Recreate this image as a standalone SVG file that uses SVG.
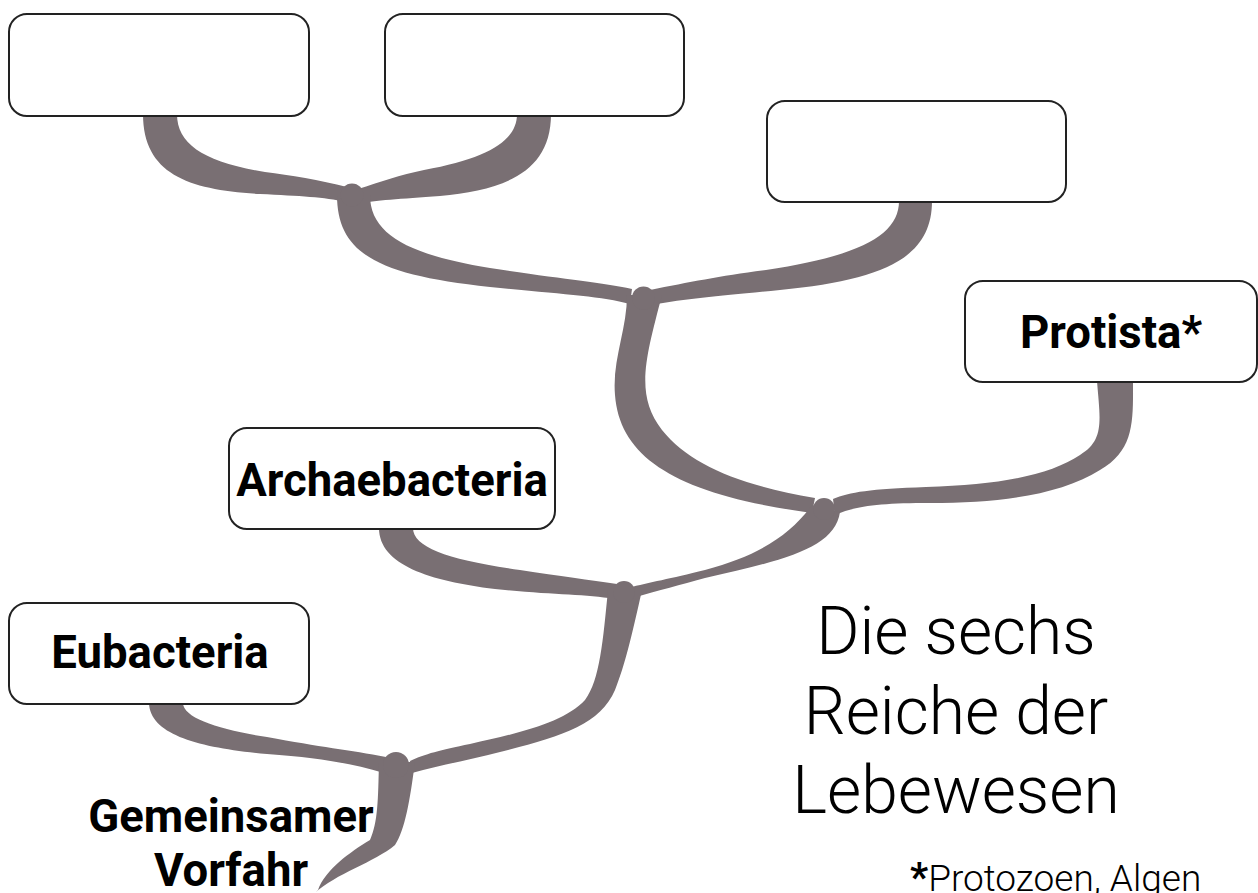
<svg xmlns="http://www.w3.org/2000/svg" width="1258" height="893" viewBox="0 0 1258 893">
<style>
.br{fill:#796f73}
.box{fill:#fff;stroke:#222;stroke-width:2}
.lbl{font-family:Roboto,"Liberation Sans",sans-serif;font-weight:700;font-size:45.5px;fill:#000;text-anchor:middle}
.title{font-family:Roboto,"Liberation Sans",sans-serif;font-weight:300;font-size:66px;fill:#000;text-anchor:middle}
.note{font-family:Roboto,"Liberation Sans",sans-serif;font-weight:300;font-size:37px;fill:#000}
</style>
<rect width="1258" height="893" fill="#fff"/>
<g id="connectors">
<path class="br" d="M143,114 C143,175 190,190 260,194 C300,196 325,197 345,202 L347,187 C320,180 290,175 265,172 C205,162 177,145 177,114 Z"/>
<path class="br" d="M551,114 C551,175 500,190 440,196 C400,199 375,200 358,204 L358,189 C380,182 400,175 424,170 C490,158 517,140 517,114 Z"/>
<path class="br" d="M337,195 C337,255 380,275 490,287 C560,294 600,296 630,304 L632,289 C600,282 560,279 490,268 C410,255 370,235 370,195 Z"/>
<circle class="br" cx="352" cy="195" r="11.5"/>
<path class="br" d="M932,201 C932,260 880,280 780,290 C720,296 690,298 652,305 L650,290 C690,282 720,276 766,270 C860,256 899,235 899,201 Z"/>
<path class="br" d="M627,295 C627,330 612,360 615,395 C620,460 680,495 812,513 L815,498 C740,485 690,465 662,430 C635,395 645,360 662,295 Z"/>
<circle class="br" cx="643.5" cy="298" r="11.5"/>
<path class="br" d="M1133,381 C1133,420 1135,450 1100,470 C1060,495 1000,503 930,503 C880,503 855,506 835,515 L833,499 C850,492 870,489 926,487 C1000,485 1050,475 1080,455 C1105,440 1100,420 1097,381 Z"/>
<path class="br" d="M812,505 C790,535 760,555 705,570 C670,579 650,582 628,588 L632,598 C660,590 680,585 705,578 C785,560 835,548 840,512 Z"/>
<circle class="br" cx="824" cy="509" r="11"/>
<path class="br" d="M379,528 C379,565 430,581 495,589 C550,595 585,594 614,599 L617,584 C590,580 560,576 520,570 C450,560 413,548 413,528 Z"/>
<path class="br" d="M608,590 C603,640 600,680 585,700 C565,722 520,733 470,744 C440,750 425,754 410,761 L412,773 C440,765 470,760 500,752 C560,737 600,725 615,690 C625,665 632,635 642,590 Z"/>
<circle class="br" cx="624" cy="592" r="11"/>
<path class="br" d="M149,703 C150,735 200,748 267,754 C320,758 350,763 384,773 L386,757 C350,750 320,747 267,737 C220,730 183,718 183,703 Z"/>
<path class="br" d="M415,762 C410,800 405,830 395,845 C375,862 335,874 315,893 L318,890 C325,870 350,852 370,840 C378,822 378,800 379,762 Z"/>
<circle class="br" cx="396" cy="765" r="13"/>
</g>
<g id="node-1"><rect class="box" x="9" y="14" width="300" height="102" rx="18"/></g>
<g id="node-2"><rect class="box" x="385" y="14" width="299" height="102" rx="18"/></g>
<g id="node-3"><rect class="box" x="767" y="101" width="299" height="101" rx="18"/></g>
<g id="node-protista"><rect class="box" x="965" y="281" width="292" height="101" rx="18"/><text class="lbl" x="1111" y="348">Protista*</text></g>
<g id="node-archaebacteria"><rect class="box" x="229" y="428" width="326" height="101" rx="18"/><text class="lbl" x="392" y="496">Archaebacteria</text></g>
<g id="node-eubacteria"><rect class="box" x="9" y="603" width="300" height="101" rx="18"/><text class="lbl" x="160" y="668">Eubacteria</text></g>
<g id="node-root"><text class="lbl" x="231" y="832">Gemeinsamer</text><text class="lbl" x="231" y="886">Vorfahr</text></g>
<g id="title"><text class="title" x="956" y="654">Die sechs</text><text class="title" x="956" y="734">Reiche der</text><text class="title" x="956" y="813">Lebewesen</text></g>
<g id="footnote"><text class="note" x="910" y="891"><tspan font-weight="700" font-size="40">*</tspan>Protozoen, Algen</text></g>
</svg>
